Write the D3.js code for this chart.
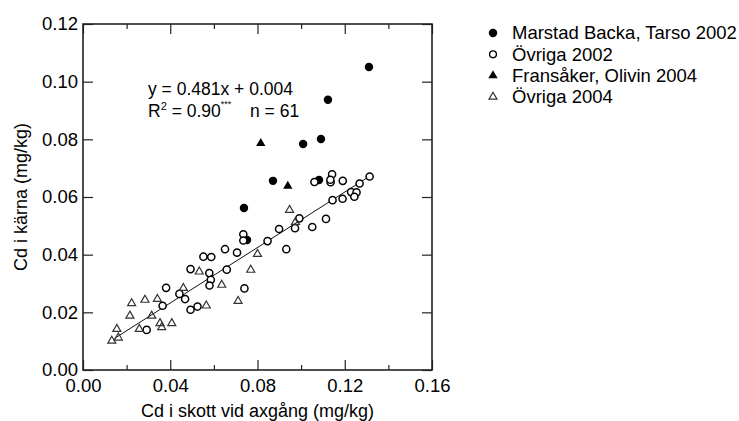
<!DOCTYPE html>
<html>
<head>
<meta charset="utf-8">
<script src="https://cdn.jsdelivr.net/npm/d3@7"></script>
<style>
  body { margin: 0; background: #fff; }
  svg { display: block; }
  text { font-family: "Liberation Sans", Arial, sans-serif; fill: #000; }
</style>
</head>
<body>
<svg id="chart"></svg>
<script>
// Serier (x = Cd i skott, y = Cd i kärna)
const seriesNames = ["Marstad Backa, Tarso 2002", "Övriga 2002", "Fransåker, Olivin 2004", "Övriga 2004"];

const marstad2002 = [
  [0.1311, 0.1051], [0.1123, 0.0937], [0.1091, 0.0801], [0.1009, 0.0784],
  [0.0871, 0.0656], [0.1082, 0.0659], [0.0738, 0.0562], [0.0752, 0.0451]
];

const ovriga2002 = [
  [0.1061, 0.0652], [0.1142, 0.0679], [0.1135, 0.0651], [0.1134, 0.0660],
  [0.1191, 0.0656], [0.1314, 0.0671], [0.1268, 0.0647], [0.1229, 0.0617],
  [0.1254, 0.0616], [0.1244, 0.0601], [0.1190, 0.0594], [0.1144, 0.0589],
  [0.1114, 0.0524], [0.1051, 0.0496], [0.0992, 0.0526], [0.0972, 0.0492],
  [0.0899, 0.0489], [0.0846, 0.0447], [0.0932, 0.0419], [0.0735, 0.0471],
  [0.0735, 0.0449], [0.0706, 0.0407], [0.0651, 0.0419], [0.0552, 0.0393],
  [0.0588, 0.0392], [0.0493, 0.0350], [0.0579, 0.0336], [0.0659, 0.0348],
  [0.0586, 0.0313], [0.0580, 0.0293], [0.0740, 0.0283], [0.0468, 0.0246],
  [0.0493, 0.0209], [0.0525, 0.0220], [0.0381, 0.0285], [0.0442, 0.0264],
  [0.0365, 0.0223], [0.0292, 0.0139]
];

const fransaker2004 = [
  [0.0815, 0.0786], [0.0939, 0.0638]
];

const ovriga2004 = [
  [0.0947, 0.0555], [0.0974, 0.0513], [0.0800, 0.0402], [0.0533, 0.0341],
  [0.0769, 0.0347], [0.0636, 0.0295], [0.0460, 0.0284], [0.0711, 0.0239],
  [0.0565, 0.0223], [0.0223, 0.0231], [0.0284, 0.0243], [0.0341, 0.0246],
  [0.0215, 0.0188], [0.0315, 0.0188], [0.0155, 0.0142], [0.0258, 0.0142],
  [0.0353, 0.0162], [0.0361, 0.0148], [0.0407, 0.0162], [0.0162, 0.0112],
  [0.0132, 0.0101]
];

const xTicks = [0, 0.04, 0.08, 0.12, 0.16];
const xMinorTicks = [0.02, 0.06, 0.10, 0.14];
const yTicks = [0, 0.02, 0.04, 0.06, 0.08, 0.10, 0.12];

// Regressionslinje y = 0.481x + 0.004
const fitSlope = 0.481, fitIntercept = 0.004;
const fitRange = [0.0145, 0.1315];

const svgWidth = 739, svgHeight = 421;
const margin = { top: 24, left: 83 };
const width = 349, height = 346;

const root = d3.select("#chart")
  .attr("width", svgWidth)
  .attr("height", svgHeight);

const svg = root.append("g")
  .attr("transform", `translate(${margin.left},${margin.top})`);

const x = d3.scaleLinear().domain([0, 0.16]).range([0, width]);
const y = d3.scaleLinear().domain([0, 0.12]).range([height, 0]);
const fmt = d3.format(".2f");

// Axlar med tickmarkeringar inåt
function styleAxis(g) {
  g.select(".domain").remove();
  g.selectAll(".tick line").attr("stroke", "#222").attr("stroke-width", 1.2);
  g.selectAll(".tick text").style("font-size", "18.5px").attr("fill", "#000");
}

svg.append("g")
  .attr("transform", `translate(0,${height})`)
  .call(d3.axisBottom(x).tickValues(xTicks).tickSize(-10).tickPadding(9).tickFormat(fmt))
  .call(styleAxis);
svg.append("g")
  .attr("transform", `translate(0,${height})`)
  .call(d3.axisBottom(x).tickValues(xMinorTicks).tickSize(-5).tickFormat(""))
  .call(styleAxis);
svg.append("g")
  .call(d3.axisTop(x).tickValues(xTicks).tickSize(-10).tickFormat(""))
  .call(styleAxis);
svg.append("g")
  .call(d3.axisTop(x).tickValues(xMinorTicks).tickSize(-5).tickFormat(""))
  .call(styleAxis);
svg.append("g")
  .call(d3.axisLeft(y).tickValues(yTicks).tickSize(-10).tickPadding(5).tickFormat(fmt))
  .call(styleAxis);
svg.append("g")
  .attr("transform", `translate(${width},0)`)
  .call(d3.axisRight(y).tickValues(yTicks).tickSize(-10).tickFormat(""))
  .call(styleAxis);

// Ram
svg.append("rect")
  .attr("width", width)
  .attr("height", height)
  .attr("fill", "none")
  .attr("stroke", "#222")
  .attr("stroke-width", 1.6);

// Regressionslinje
svg.append("line")
  .attr("x1", x(fitRange[0]))
  .attr("y1", y(fitSlope * fitRange[0] + fitIntercept))
  .attr("x2", x(fitRange[1]))
  .attr("y2", y(fitSlope * fitRange[1] + fitIntercept))
  .attr("stroke", "#111")
  .attr("stroke-width", 1);

// Markörer
const styles = [
  { data: marstad2002, type: d3.symbolCircle, size: 56, fill: "#000", stroke: "none", sw: 0 },
  { data: ovriga2002, type: d3.symbolCircle, size: 40, fill: "#fff", stroke: "#000", sw: 1.5 },
  { data: fransaker2004, type: d3.symbolTriangle, size: 38, fill: "#000", stroke: "none", sw: 0 },
  { data: ovriga2004, type: d3.symbolTriangle, size: 28, fill: "none", stroke: "#333", sw: 1.2 }
];

styles.forEach(s => {
  svg.append("g").selectAll("path")
    .data(s.data)
    .enter()
    .append("path")
    .attr("transform", d => `translate(${x(d[0])},${y(d[1])})`)
    .attr("d", d3.symbol().type(s.type).size(s.size))
    .attr("fill", s.fill)
    .attr("stroke", s.stroke)
    .attr("stroke-width", s.sw);
});

// Ekvation
const eq = svg.append("g").style("font-size", "17.5px");
eq.append("text").attr("x", 65).attr("y", 71).text("y = 0.481x + 0.004");
const r2 = eq.append("text").attr("x", 65).attr("y", 93);
r2.append("tspan").text("R");
r2.append("tspan").attr("dy", -7).style("font-size", "11px").text("2");
r2.append("tspan").attr("dy", 7).text(" = 0.90");
r2.append("tspan").attr("dy", -10).style("font-size", "9px").text("***");
eq.append("text").attr("x", 167).attr("y", 93).text("n = 61");

// Axeltitlar
root.append("text")
  .attr("x", margin.left + width / 2)
  .attr("y", 417)
  .attr("text-anchor", "middle")
  .style("font-size", "18px")
  .text("Cd i skott vid axgång (mg/kg)");

root.append("text")
  .attr("transform", `translate(27,${margin.top + height / 2}) rotate(-90)`)
  .attr("text-anchor", "middle")
  .style("font-size", "18px")
  .text("Cd i kärna (mg/kg)");

// Legend
const legend = root.append("g").attr("transform", "translate(493,33)");
const legendStyles = [
  { type: d3.symbolCircle, size: 56, fill: "#000", stroke: "none", sw: 0 },
  { type: d3.symbolCircle, size: 36, fill: "#fff", stroke: "#000", sw: 1.4 },
  { type: d3.symbolTriangle, size: 38, fill: "#000", stroke: "none", sw: 0 },
  { type: d3.symbolTriangle, size: 28, fill: "none", stroke: "#333", sw: 1.2 }
];
const item = legend.selectAll("g")
  .data(seriesNames)
  .enter()
  .append("g")
  .attr("transform", (d, i) => `translate(0,${i * 21.3})`);
item.append("path")
  .attr("d", (d, i) => d3.symbol().type(legendStyles[i].type).size(legendStyles[i].size)())
  .attr("fill", (d, i) => legendStyles[i].fill)
  .attr("stroke", (d, i) => legendStyles[i].stroke)
  .attr("stroke-width", (d, i) => legendStyles[i].sw);
item.append("text")
  .attr("x", 19)
  .attr("dy", "0.35em")
  .style("font-size", "18.5px")
  .text(d => d);
</script>
</body>
</html>
